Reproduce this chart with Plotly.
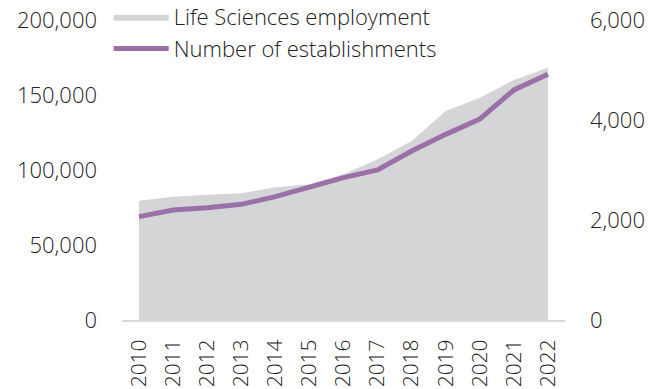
import plotly.graph_objects as go

years = [str(y) for y in range(2010, 2023)]
employment = [79500, 82200, 83500, 84500, 88500, 90500, 97100, 107100, 119300, 139300, 148200, 160000, 168200]
establishments = [2067, 2200, 2247, 2313, 2467, 2667, 2847, 3000, 3380, 3713, 4020, 4600, 4913]

FONT = "Open Sans"
TXT = "#222222"

fig = go.Figure()
fig.add_trace(go.Scatter(
    x=years, y=employment, name="Life Sciences employment",
    mode="lines", fill="tozeroy", fillcolor="#d4d5d7",
    line=dict(width=0, color="#d4d5d7"), yaxis="y"))
fig.add_trace(go.Scatter(
    x=years, y=establishments, name="Number of establishments",
    mode="lines", line=dict(width=5, color="#9b70a8"), yaxis="y2"))

fig.update_layout(
    width=662, height=389,
    margin=dict(l=122, r=97, t=20, b=69, autoexpand=False),
    paper_bgcolor="white", plot_bgcolor="white",
    font=dict(family=FONT, size=22, color=TXT, weight=300),
    showlegend=True,
    legend=dict(x=-0.03, y=1.08, xanchor="left", yanchor="top",
                bgcolor="rgba(0,0,0,0)", font=dict(size=22, color=TXT, weight=300),
                tracegroupgap=0, itemwidth=55),
    xaxis=dict(type="category", range=[-0.5, 12.5], showgrid=False,
               showline=True, linecolor="#d9d9d9", linewidth=2,
               ticks="", tickangle=-90, ticklabelstandoff=9, automargin=False,
               tickfont=dict(size=21, color=TXT, weight=300)),
    yaxis=dict(range=[0, 200000], dtick=50000, tickformat=",d", automargin=False,
               showgrid=False, zeroline=False, ticks="",
               ticklabelstandoff=24, tickfont=dict(size=22, color=TXT, weight=300)),
    yaxis2=dict(range=[0, 6000], dtick=2000, tickformat=",d", overlaying="y",
                side="right", showgrid=False, zeroline=False, ticks="", automargin=False,
                ticklabelstandoff=24, tickfont=dict(size=22, color=TXT, weight=300)),
)

fig.write_html("out.html")
